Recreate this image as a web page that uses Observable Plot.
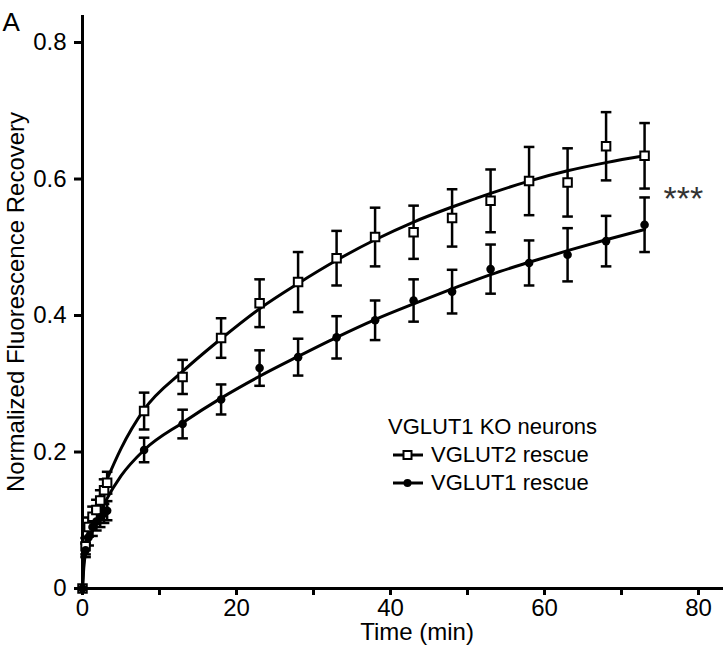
<!DOCTYPE html>
<html>
<head>
<meta charset="utf-8">
<script src="https://cdn.jsdelivr.net/npm/d3@7"></script>
<script src="https://cdn.jsdelivr.net/npm/@observablehq/plot@0.6"></script>
<style>
  html, body { margin: 0; padding: 0; background: white; }
  #wrap { position: relative; width: 723px; height: 648px; font-family: "Liberation Sans", Arial, sans-serif; }
  #legend { position: absolute; left: 388px; top: 413px; font-size: 22px; line-height: 28px; color: black; }
  #legend .row { display: flex; align-items: center; height: 28px; }
  #legend .row svg { margin-left: 4px; margin-right: 7px; }
</style>
</head>
<body>
<div id="wrap"></div>
<script>
// ---- data ----
const times = [0, 0.4, 0.8, 1.3, 1.8, 2.3, 2.8, 3.2, 8, 13, 18, 23, 28, 33, 38, 43, 48, 53, 58, 63, 68, 73];
const vglut2Mean = [0, 0.062, 0.09, 0.105, 0.115, 0.129, 0.144, 0.155, 0.260, 0.310, 0.367, 0.418, 0.449, 0.484, 0.515, 0.522, 0.543, 0.568, 0.597, 0.595, 0.648, 0.634];
const vglut2Sem  = [0, 0.012, 0.014, 0.015, 0.015, 0.015, 0.016, 0.016, 0.027, 0.025, 0.029, 0.035, 0.044, 0.040, 0.043, 0.039, 0.042, 0.046, 0.050, 0.050, 0.050, 0.048];
const vglut1Mean = [0, 0.056, 0.075, 0.090, 0.098, 0.104, 0.110, 0.114, 0.203, 0.241, 0.277, 0.323, 0.339, 0.368, 0.393, 0.422, 0.435, 0.468, 0.477, 0.489, 0.509, 0.533];
const vglut1Sem  = [0, 0.010, 0.012, 0.013, 0.013, 0.014, 0.014, 0.014, 0.018, 0.021, 0.022, 0.026, 0.027, 0.031, 0.029, 0.031, 0.032, 0.036, 0.033, 0.039, 0.037, 0.040];
// fitted curves
const fitTimes  = [0, 0.2, 0.5, 1, 2, 3, 5, 8, 13, 18, 23, 28, 33, 38, 43, 48, 53, 58, 63, 68, 73];
const vglut2Fit = [0, 0.045, 0.070, 0.095, 0.128, 0.155, 0.205, 0.262, 0.318, 0.366, 0.410, 0.447, 0.481, 0.511, 0.537, 0.559, 0.579, 0.597, 0.612, 0.624, 0.634];
const vglut1Fit = [0, 0.035, 0.057, 0.078, 0.105, 0.128, 0.165, 0.203, 0.243, 0.279, 0.311, 0.340, 0.368, 0.394, 0.417, 0.439, 0.460, 0.478, 0.495, 0.511, 0.526];
const seriesNames = ["VGLUT2 rescue", "VGLUT1 rescue"];
const legendTitle = "VGLUT1 KO neurons";
const yTicks = [0, 0.2, 0.4, 0.6, 0.8];
const xMajorTicks = [0, 20, 40, 60, 80];
const xMinorTicks = [10, 30, 50, 70];
const xLabel = "Time (min)";
const yLabel = "Normalized Fluorescence Recovery";
const panelLabel = "A";
const significance = "***";

// ---- build tables ----
const pts = [];
times.forEach((t, i) => {
  pts.push({series: seriesNames[0], t, y: vglut2Mean[i], lo: vglut2Mean[i] - vglut2Sem[i], hi: vglut2Mean[i] + vglut2Sem[i]});
  pts.push({series: seriesNames[1], t, y: vglut1Mean[i], lo: vglut1Mean[i] - vglut1Sem[i], hi: vglut1Mean[i] + vglut1Sem[i]});
});
const fits = [];
fitTimes.forEach((t, i) => fits.push({series: seriesNames[0], t, y: vglut2Fit[i]}));
fitTimes.forEach((t, i) => fits.push({series: seriesNames[1], t, y: vglut1Fit[i]}));
const lastIdx = times.length - 1;
const sigPos = [{t: times[lastIdx], y: (vglut2Mean[lastIdx] + vglut1Mean[lastIdx]) / 2, label: significance}];

const capSymbol = {
  draw(context, size) {
    const w = Math.sqrt(size / Math.PI);
    context.moveTo(-w, 0);
    context.lineTo(w, 0);
  }
};
const fmt = d => d === 0 ? "0" : d.toFixed(1);

const chart = Plot.plot({
  width: 723,
  height: 648,
  marginLeft: 82,
  marginRight: 0,
  marginTop: 15,
  marginBottom: 60,
  style: {fontFamily: "'Liberation Sans', Arial, sans-serif", fontSize: "24px", background: "white", color: "black", overflow: "visible"},
  x: {domain: [0, 83.25]},
  y: {domain: [0, 0.8396]},
  marks: [
    Plot.axisY({ticks: yTicks, tickFormat: fmt, tickSize: 8, tickPadding: 8, strokeWidth: 3, label: null, fontSize: 24}),
    Plot.axisX({ticks: xMajorTicks, tickSize: 7, tickPadding: 3, strokeWidth: 3, label: null, fontSize: 24}),
    Plot.axisX({ticks: xMinorTicks, tickFormat: () => "", tickSize: 7, strokeWidth: 3, label: null}),
    Plot.ruleY([0], {strokeWidth: 3}),
    Plot.ruleX([0], {strokeWidth: 3}),
    Plot.line(fits, {x: "t", y: "y", z: "series", curve: "monotone-x", stroke: "black", strokeWidth: 3}),
    Plot.ruleX(pts, {x: "t", y1: "lo", y2: "hi", stroke: "black", strokeWidth: 2.5}),
    Plot.dot(pts, {x: "t", y: "hi", symbol: capSymbol, r: 5.3, stroke: "black", strokeWidth: 2.5, fill: "none"}),
    Plot.dot(pts, {x: "t", y: "lo", symbol: capSymbol, r: 5.3, stroke: "black", strokeWidth: 2.5, fill: "none"}),
    Plot.dot(pts.filter(d => d.series === seriesNames[0]), {x: "t", y: "y", symbol: "square", r: 4.8, fill: "white", stroke: "black", strokeWidth: 2}),
    Plot.dot(pts.filter(d => d.series === seriesNames[1]), {x: "t", y: "y", symbol: "circle", r: 4.3, fill: "black", stroke: "none"}),
    Plot.text([yLabel], {frameAnchor: "left", rotate: -90, dx: -66, textAnchor: "middle", lineAnchor: "middle", fontSize: 24}),
    Plot.text([xLabel], {frameAnchor: "bottom", dy: 44, dx: 14, textAnchor: "middle", lineAnchor: "middle", fontSize: 24}),
    Plot.text([panelLabel], {frameAnchor: "top-left", dx: -80, dy: -3, textAnchor: "start", lineAnchor: "top", fontSize: 26}),
    Plot.text(sigPos, {x: "t", y: "y", text: "label", textAnchor: "start", dx: 19, dy: 9, fontSize: 34, fill: "#333"})
  ]
});

const wrap = document.getElementById("wrap");
wrap.appendChild(chart);

// legend overlay
const legend = document.createElement("div");
legend.id = "legend";
const title = document.createElement("div");
title.textContent = legendTitle;
legend.appendChild(title);
seriesNames.forEach((name, i) => {
  const row = document.createElement("div");
  row.className = "row";
  const ns = "http://www.w3.org/2000/svg";
  const s = document.createElementNS(ns, "svg");
  s.setAttribute("width", 32); s.setAttribute("height", 14);
  const ln = document.createElementNS(ns, "line");
  ln.setAttribute("x1", 1); ln.setAttribute("x2", 31); ln.setAttribute("y1", 7); ln.setAttribute("y2", 7);
  ln.setAttribute("stroke", "black"); ln.setAttribute("stroke-width", 3);
  s.appendChild(ln);
  if (i === 0) {
    const r = document.createElementNS(ns, "rect");
    r.setAttribute("x", 11.5); r.setAttribute("y", 3); r.setAttribute("width", 8); r.setAttribute("height", 8);
    r.setAttribute("fill", "white"); r.setAttribute("stroke", "black"); r.setAttribute("stroke-width", 2);
    s.appendChild(r);
  } else {
    const c = document.createElementNS(ns, "circle");
    c.setAttribute("cx", 15.5); c.setAttribute("cy", 7); c.setAttribute("r", 4);
    c.setAttribute("fill", "black");
    s.appendChild(c);
  }
  row.appendChild(s);
  const tx = document.createElement("span");
  tx.textContent = name;
  row.appendChild(tx);
  legend.appendChild(row);
});
wrap.appendChild(legend);
</script>
</body>
</html>
